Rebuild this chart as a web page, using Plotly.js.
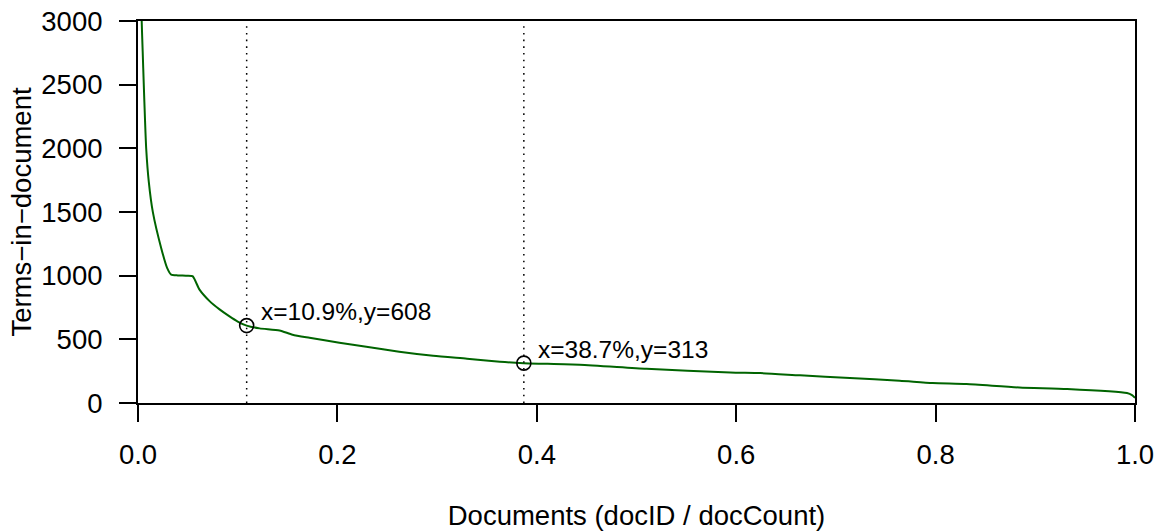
<!DOCTYPE html>
<html>
<head>
<meta charset="utf-8">
<script src="https://cdn.plot.ly/plotly-3.0.1.min.js"></script>
<style>
  html, body { margin: 0; padding: 0; background: #fff; }
  #chart { width: 1157px; height: 531px; }
</style>
</head>
<body>
<div id="chart"></div>
<script>
// Share of documents (docID / docCount) against terms per document
const docShare = [0.001, 0.002, 0.003, 0.0037, 0.0047, 0.0058, 0.0070, 0.0082, 0.0108, 0.0149,
  0.0233, 0.0293, 0.0333, 0.040, 0.048, 0.0547, 0.0617, 0.0718, 0.0818, 0.0918,
  0.100, 0.109, 0.122, 0.142, 0.155, 0.172, 0.202, 0.229, 0.262, 0.296,
  0.330, 0.363, 0.387, 0.443, 0.510, 0.594, 0.624, 0.664, 0.714, 0.764,
  0.797, 0.831, 0.884, 0.932, 0.992, 0.997, 1.0];
const termsInDoc = [9000, 5000, 3500, 3000, 2760, 2500, 2230, 2001, 1739, 1499,
  1216, 1059, 1008, 1002, 1000, 996, 890, 800, 735, 680,
  640, 608, 586, 570, 536, 512, 473, 442, 403, 371,
  348, 324, 313, 301, 269, 240, 235, 217, 196, 175,
  157, 149, 122, 110, 78, 62, 40];

// Highlighted documents
const markX = [0.109, 0.387];
const markY = [608, 313];

const xTicks = [0, 0.2, 0.4, 0.6, 0.8, 1.0];
const yTicks = [0, 500, 1000, 1500, 2000, 2500, 3000];

const FONT = 'Liberation Sans, Arial, Helvetica, sans-serif';
const FS = 27.5;

const traces = [
  {
    x: docShare, y: termsInDoc, type: 'scatter', mode: 'lines',
    line: { color: '#006400', width: 2, shape: 'spline', smoothing: 0.6 },
    hoverinfo: 'skip'
  }
];

// dotted guides at each highlighted document
markX.forEach(v => {
  traces.push({
    x: [v, v], y: [yTicks[0], yTicks[yTicks.length - 1]], type: 'scatter', mode: 'lines',
    line: { color: '#000', width: 1.5, dash: '1.6px,5.1px' }, hoverinfo: 'skip'
  });
});

traces.push({
  x: markX, y: markY, type: 'scatter', mode: 'markers',
  marker: { symbol: 'circle-open', size: 14, color: '#000', line: { width: 1.6, color: '#000' } },
  hoverinfo: 'skip'
});

const annotations = markX.map((v, i) => ({
  x: v, y: markY[i], xref: 'x', yref: 'y',
  text: 'x=' + (v * 100).toFixed(1) + '%,y=' + markY[i],
  showarrow: false, xanchor: 'left', yanchor: 'middle',
  xshift: 12, yshift: 14,
  font: { family: FONT, size: 24.5, color: '#000' }
}));

const layout = {
  width: 1157, height: 531,
  margin: { l: 138, r: 22, t: 21, b: 128 },
  paper_bgcolor: '#fff', plot_bgcolor: '#fff',
  showlegend: false,
  font: { family: FONT, size: FS, color: '#000' },
  xaxis: {
    range: [0, 1], tickvals: xTicks, tickformat: '.1f',
    showgrid: false, zeroline: false,
    showline: true, mirror: true, linecolor: '#000', linewidth: 2,
    ticks: 'outside', ticklen: 17, tickwidth: 2, tickcolor: '#000',
    ticklabelstandoff: 9,
    tickfont: { family: FONT, size: FS, color: '#000' },
    title: { text: 'Documents (docID / docCount)', standoff: 40,
             font: { family: FONT, size: FS, color: '#000' } }
  },
  yaxis: {
    range: [0, 3000], tickvals: yTicks,
    showgrid: false, zeroline: false,
    showline: true, mirror: true, linecolor: '#000', linewidth: 2,
    ticks: 'outside', ticklen: 17, tickwidth: 2, tickcolor: '#000',
    ticklabelstandoff: 11,
    tickfont: { family: FONT, size: FS, color: '#000' },
    title: { text: 'Terms\u2212in\u2212document', standoff: 2,
             font: { family: FONT, size: FS, color: '#000' } }
  },
  annotations: annotations
};

Plotly.newPlot('chart', traces, layout, { displayModeBar: false, staticPlot: true });
</script>
</body>
</html>
